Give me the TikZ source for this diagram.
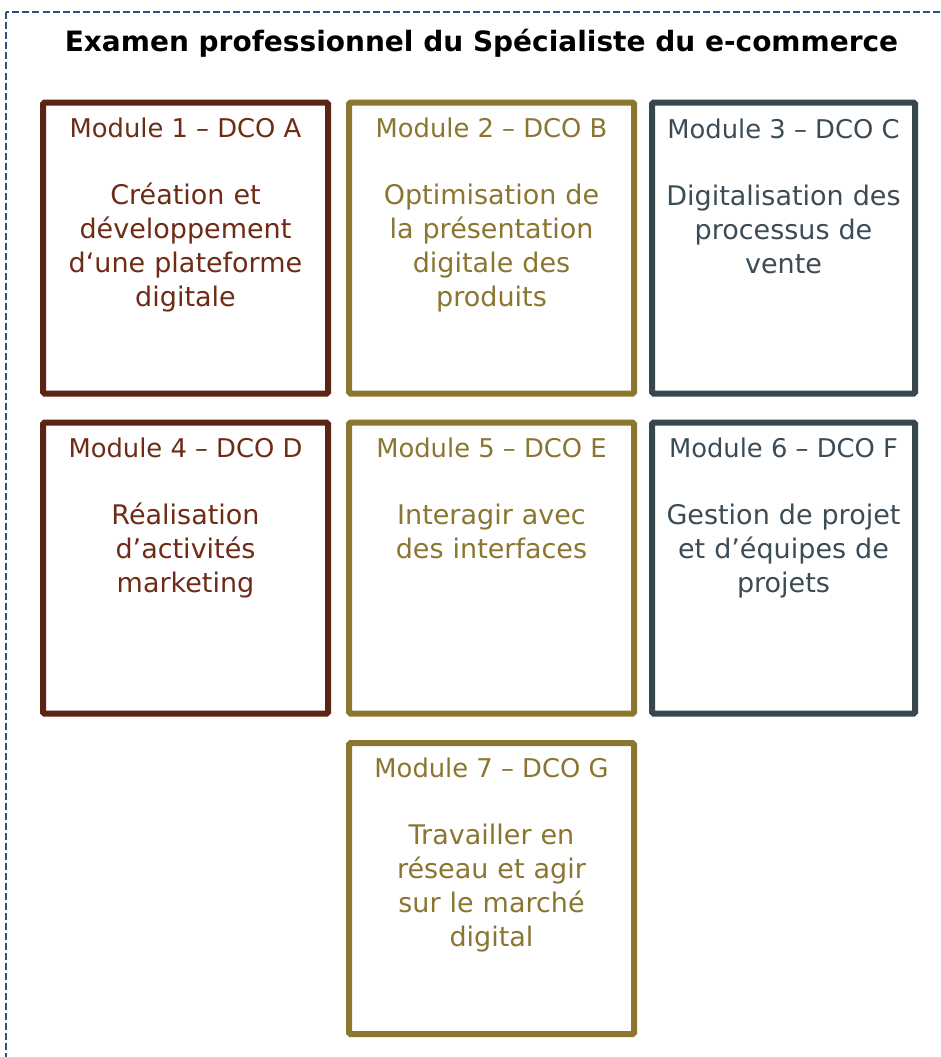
\documentclass[tikz,border=0pt]{standalone}
\usepackage{fontspec}
\setmainfont{DejaVu Sans}

\definecolor{brunbox}{HTML}{5C2412}
\definecolor{brunfont}{HTML}{6E2C16}
\definecolor{orbox}{HTML}{8C772F}
\definecolor{orfont}{HTML}{8A7630}
\definecolor{ardbox}{HTML}{36474F}
\definecolor{ardfont}{HTML}{3C4C57}
\definecolor{cadre}{HTML}{2A5286}

\tikzset{
  modbox/.style={draw=#1, line width=6pt, rounded corners=1.5pt, minimum height=291pt, inner sep=0pt},
  modtitre/.style={anchor=base, inner sep=0pt, text=#1, font=\fontsize{25.8}{32}\selectfont},
  modtexte/.style={anchor=base, inner sep=0pt, text=#1, align=center, text width=270pt, font=\fontsize{27}{34}\selectfont}
}

\begin{document}
\begin{tikzpicture}[x=1pt, y=-1pt]
    \clip (0, 0) rectangle (941, 1057);
    \fill[white] (0, 0) rectangle (941, 1057);
    \draw[cadre, line width=2pt, dash pattern=on 7pt off 3pt] (5.5, 12.5) rectangle (980, 1100);

    \node[anchor=base, inner sep=0pt, font=\bfseries\fontsize{28}{32}\selectfont] (examen) at (481.5, 52) {Examen professionnel du Spécialiste du e-commerce};

    % premiere rangee
    \node[modbox=brunbox, minimum width=285pt] (m1) at (185.5, 248) {};
    \node[modbox=orbox, minimum width=285pt] (m2) at (491.5, 248) {};
    \node[modbox=ardbox, minimum width=263pt] (m3) at (783.5, 248) {};

    % deuxieme rangee
    \node[modbox=brunbox, minimum width=285pt] (m4) at (185.5, 568) {};
    \node[modbox=orbox, minimum width=285pt] (m5) at (491.5, 568) {};
    \node[modbox=ardbox, minimum width=263pt] (m6) at (783.5, 568) {};

    % troisieme rangee
    \node[modbox=orbox, minimum width=285pt] (m7) at (491.5, 888.5) {};

    \node[modtitre=brunfont] (m1t) at (185.5, 137) {Module 1 – DCO A};
    \node[modtitre=orfont] (m2t) at (491.5, 137) {Module 2 – DCO B};
    \node[modtitre=ardfont] (m3t) at (783.5, 138) {Module 3 – DCO C};
    \node[modtitre=brunfont] (m4t) at (185.5, 457) {Module 4 – DCO D};
    \node[modtitre=orfont] (m5t) at (491.5, 457) {Module 5 – DCO E};
    \node[modtitre=ardfont] (m6t) at (783.5, 457) {Module 6 – DCO F};
    \node[modtitre=orfont] (m7t) at (491.5, 777) {Module 7 – DCO G};

    \node[modtexte=brunfont] (m1x) at (185.5, 204) {Création et\\développement\\d‘une plateforme\\digitale};
    \node[modtexte=orfont] (m2x) at (491.5, 204) {Optimisation de\\la présentation\\digitale des\\produits};
    \node[modtexte=ardfont] (m3x) at (783.5, 205) {Digitalisation des\\processus de\\vente};
    \node[modtexte=brunfont] (m4x) at (185.5, 524) {Réalisation\\d’activités\\marketing};
    \node[modtexte=orfont] (m5x) at (491.5, 524) {Interagir avec\\des interfaces};
    \node[modtexte=ardfont] (m6x) at (783.5, 524) {Gestion de projet\\et d’équipes de\\projets};
    \node[modtexte=orfont] (m7x) at (491.5, 844) {Travailler en\\réseau et agir\\sur le marché\\digital};
\end{tikzpicture}
\end{document}
